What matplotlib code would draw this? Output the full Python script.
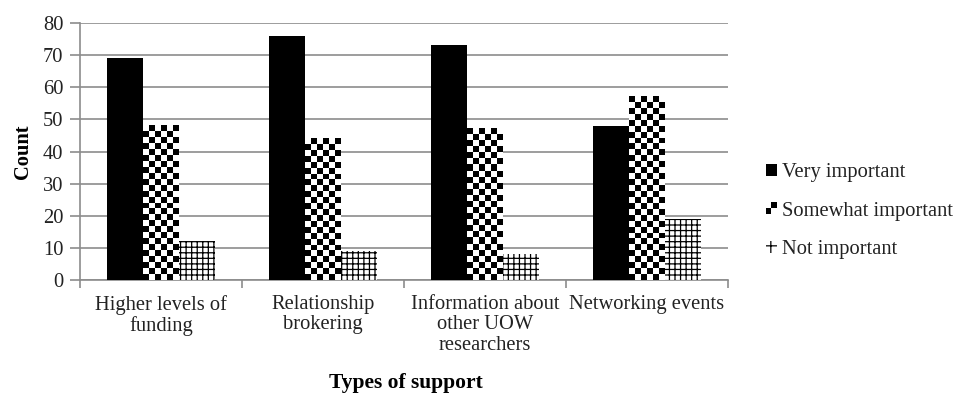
import numpy as np
import matplotlib
matplotlib.use('Agg')
import matplotlib.pyplot as plt
from matplotlib.patches import Rectangle
from matplotlib.legend_handler import HandlerBase

plt.rcParams['font.family'] = ['Liberation Serif', 'DejaVu Serif']
plt.rcParams['hatch.linewidth'] = 0.9

categories = ['Higher levels of\nfunding', 'Relationship\nbrokering',
              'Information about\nother UOW\nresearchers', 'Networking events']
series = ['Very important', 'Somewhat important', 'Not important']
very = [69, 76, 73, 48]
somewhat = [48, 44, 47, 57]
not_imp = [12, 9, 8, 19]

GRID = '#8c8c8c'
TXT = '#222222'
FS = 14.8
W = 0.222

fig = plt.figure(figsize=(9.7, 3.93), dpi=100)
ax = fig.add_axes([0.0825, 0.2875, 0.668, 0.654])

x = np.arange(len(categories))
b_very = ax.bar(x - W, very, W, color='black', zorder=3)
b_some = ax.bar(x, somewhat, W, color='white', zorder=3)
b_not = ax.bar(x + W, not_imp, W, color='white', edgecolor='black',
               hatch='+++', linewidth=0, zorder=3)

ax.set_xlim(-0.5, 3.5)
ax.set_ylim(0, 80)

# checkerboard fill for the "somewhat" bars, ~6 px squares
fig.canvas.draw()
py = (ax.transData.transform((0, 80))[1] - ax.transData.transform((0, 0))[1]) / 80.0
cell = np.ones((8, 8))
for p in b_some:
    x0, w, h = p.get_x(), p.get_width(), p.get_height()
    rows = max(1, int(round(h * py / 6.0)))
    cols = 6
    board = (np.add.outer(np.arange(rows), np.arange(cols)) % 2).astype(float)
    board = np.kron(board, cell)
    ax.imshow(board, cmap='gray', vmin=0, vmax=1, extent=(x0, x0 + w, 0, h),
              origin='lower', interpolation='nearest', aspect='auto', zorder=3.5)
ax.set_xlim(-0.5, 3.5)
ax.set_ylim(0, 80)

ax.set_yticks(np.arange(0, 81, 10))
ax.yaxis.grid(True, color=GRID, linewidth=1.2, zorder=0)
ax.set_axisbelow(True)
for s in ['top', 'right']:
    ax.spines[s].set_visible(False)
for s in ['left', 'bottom']:
    ax.spines[s].set_color(GRID)
    ax.spines[s].set_linewidth(1.2)

ax.set_xticks(np.arange(-0.5, 3.6, 1.0))
ax.set_xticklabels([])
ax.set_xticks(x, minor=True)
ax.set_xticklabels(categories, minor=True, fontsize=FS, color=TXT,
                   linespacing=1.08, va='top')
ax.tick_params(axis='x', which='minor', length=0, pad=11)
ax.tick_params(axis='x', which='major', length=6, color=GRID, width=1.2)
ax.tick_params(axis='y', length=7, color=GRID, width=1.2, labelsize=FS,
               labelcolor=TXT, pad=5)

ax.set_ylabel('Count', fontsize=FS, fontweight='bold', labelpad=7)
fig.text(0.4185, 0.026, 'Types of support', fontsize=15.5, fontweight='bold',
         ha='center', va='center')


class CheckerHandler(HandlerBase):
    def create_artists(self, legend, orig_handle, xdescent, ydescent,
                       width, height, fontsize, trans):
        arts = [Rectangle((-xdescent, -ydescent), width, height,
                          facecolor='white', edgecolor='none', transform=trans)]
        hw, hh = width / 2.0, height / 2.0
        for i in range(2):
            for j in range(2):
                if (i + j) % 2 == 0:
                    arts.append(Rectangle((-xdescent + i * hw, -ydescent + j * hh),
                                          hw, hh, facecolor='black',
                                          edgecolor='none', transform=trans))
        return arts


h_very = Rectangle((0, 0), 1, 1, facecolor='black')
h_some = Rectangle((0, 0), 1, 1, facecolor='white')
h_not = Rectangle((0, 0), 1, 1, facecolor='white', edgecolor='black',
                  hatch='++', linewidth=0)
fig.legend([h_very, h_some, h_not], series, loc='center left',
           bbox_to_anchor=(0.781, 0.463), frameon=False, fontsize=FS,
           handlelength=0.55, handleheight=0.55, handletextpad=0.25,
           labelspacing=0.95, borderaxespad=0, labelcolor=TXT,
           handler_map={h_some: CheckerHandler()})

fig.savefig('out.png', dpi=100)
